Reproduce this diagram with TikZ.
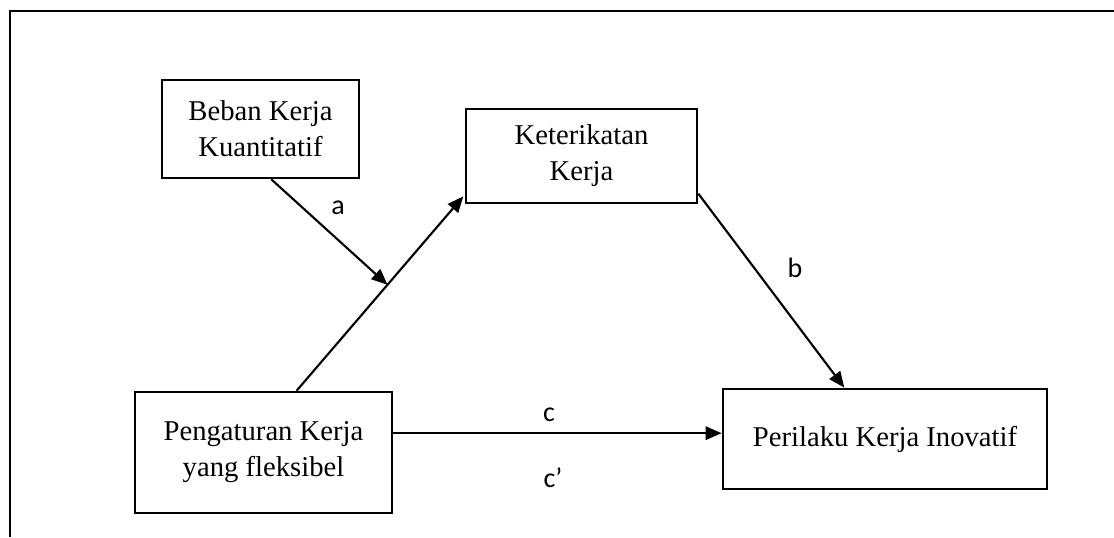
\documentclass[tikz,border=0pt]{standalone}
\usepackage{fontspec}
\setmainfont{Liberation Serif}
\newfontfamily\labfont{Carlito}
\usetikzlibrary{arrows.meta,calc}
\begin{document}
\begin{tikzpicture}[x=0.75pt,y=-0.75pt,
  box/.style={draw,line width=2pt,align=center,inner sep=0pt,
    font=\fontsize{21.5}{27}\selectfont},
  arr/.style={line width=1.6pt,-{Triangle[length=12pt,width=10pt]}},
  lab/.style={font=\labfont\fontsize{21}{24}\selectfont,inner sep=0pt}]
\useasboundingbox (0,0) rectangle (1114,537);
\draw[line width=2pt] (10,537) -- (10,11) -- (1114,11);
\node[box,minimum width=147.75pt,minimum height=73.5pt] (A) at (260.5,129) {Beban Kerja\\Kuantitatif};
\node[box,minimum width=173.25pt,minimum height=70.5pt] (K) at (581.5,156) {Keterikatan\\Kerja};
\node[box,minimum width=192.75pt,minimum height=90.75pt] (P) at (263.5,452.5) {Pengaturan Kerja\\yang fleksibel};
\node[box,minimum width=243pt,minimum height=75pt] (I) at (885,439) {Perilaku Kerja Inovatif};
\coordinate (p1) at ([xshift=122.25pt]P.north west);
\coordinate (k1) at ([xshift=-1pt,yshift=6pt]K.south west);
\coordinate (m) at ($(p1)!0.545!(k1)$);
\draw[arr] (p1) -- (k1);
\draw[arr] ([xshift=83pt]A.south west) -- (m);
\draw[arr] ([yshift=8pt]K.south east) -- ([xshift=92pt]I.north west);
\draw[arr] ([yshift=14.5pt]P.east) -- ([yshift=14.5pt]P.east -| I.west);
\node[lab] (la) at (338,208) {a};
\node[lab] (lb) at (795,268) {b};
\node[lab] (lc) at (549,415) {c};
\node[lab] (lc2) at (553,478) {c’};
\end{tikzpicture}
\end{document}
